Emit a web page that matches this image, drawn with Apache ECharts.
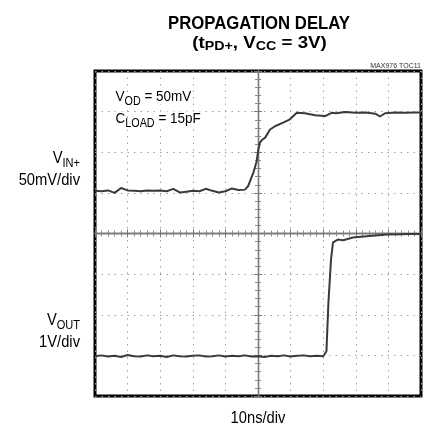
<!DOCTYPE html>
<html>
<head>
<meta charset="utf-8">
<script src="https://cdn.jsdelivr.net/npm/echarts@6/dist/echarts.min.js"></script>
<style>
html,body{margin:0;padding:0;background:#fff;}
#c{width:430px;height:428px;}
</style>
</head>
<body>
<div id="c"></div>
<script>
// Time in ns relative to screen centre (10 ns/div); levels in screen divisions (centre = 0)
const vinTime = [-50,-48,-46,-44,-42,-40,-38,-36,-34,-32,-30,-28,-26,-24,-22,-20,-18,-16,-14,-12,-10,-8,-6,-4,
  -3.0,-2.0,-1.4,-0.4,0.1,0.6,1.2,2.2,3.7,5.2,7.7,9.8,11.9,14.4,17.5,20.6,22.6,24.0,26.7,30,33,36,37.4,39,42,45,48,50];
const vinDiv = [1.05,1.04,1.06,1.00,1.12,1.06,1.05,1.04,1.06,1.05,1.06,1.04,1.10,1.01,1.03,1.05,1.04,1.10,1.05,1.01,1.04,1.11,1.07,1.08,
  1.17,1.38,1.50,1.78,2.07,2.24,2.30,2.36,2.56,2.64,2.73,2.81,2.97,2.96,2.91,2.89,2.97,2.96,2.99,2.97,2.98,2.95,2.88,2.96,2.98,2.97,2.98,2.98];

const voutTime = [-50,-48,-46,-44,-42,-40,-38,-36,-34,-32,-30,-28,-26,-24,-22,-20,-18,-16,-14,-12,-10,-8,-6,-4,-2,0,2,4,6,8,10,12,14,16,18,20,
  20.6,21.0,21.6,22.4,23.0,24.5,26.1,29.1,33.3,39.5,43.6,47,50];
const voutDiv = [-3.02,-3.00,-3.03,-3.01,-3.04,-2.99,-3.02,-3.03,-3.00,-3.02,-3.01,-3.04,-3.00,-3.02,-3.03,-3.01,-3.00,-3.03,-3.02,-3.00,-3.03,-3.01,-3.02,-3.00,-3.03,-3.02,-3.04,-3.01,-3.02,-3.00,-3.03,-3.01,-3.00,-3.02,-3.01,-3.02,
  -3.06,-2.90,-1.70,-0.64,-0.22,-0.15,-0.165,-0.10,-0.066,-0.025,-0.02,-0.01,-0.01];

const titleLine1 = 'PROPAGATION DELAY';
const xScaleLabel = '10ns/div';
const vinLabel = ['V', 'IN+', '50mV/div'];
const voutLabel = ['V', 'OUT', '1V/div'];

const FONT = '"Liberation Sans",Arial,sans-serif';

function zip(a, b) { return a.map((v, i) => [v, b[i]]); }

const chart = echarts.init(document.getElementById('c'), null, {renderer: 'canvas'});

const gridLine = {show: true, lineStyle: {color: '#a0a0a0', width: 1, type: [1.5, 5]}};
const centreLine = {color: '#777', width: 1.3};

function xAx(pos, split) {
  return {
    type: 'value', min: -50, max: 50, interval: 10, position: pos,
    axisLine: {show: true, onZero: true, onZeroAxisIndex: 0, lineStyle: centreLine},
    axisTick: {show: true, length: 4, lineStyle: {color: '#777', width: 1}},
    minorTick: {show: true, splitNumber: 5, length: 3, lineStyle: {color: '#888', width: 1}},
    axisLabel: {show: false},
    splitLine: split ? gridLine : {show: false},
    minorSplitLine: {show: false}
  };
}
function yAx(pos, split) {
  return {
    type: 'value', min: -4, max: 4, interval: 1, position: pos,
    axisLine: {show: true, onZero: true, onZeroAxisIndex: 0, lineStyle: centreLine},
    axisTick: {show: true, length: 4, lineStyle: {color: '#777', width: 1}},
    minorTick: {show: true, splitNumber: 5, length: 3, lineStyle: {color: '#888', width: 1}},
    axisLabel: {show: false},
    splitLine: split ? gridLine : {show: false},
    minorSplitLine: {show: false}
  };
}

function labelRich() {
  return {
    m: {font: '16px ' + FONT, fill: '#000', lineHeight: 22},
    s: {font: '12px ' + FONT, fill: '#000', lineHeight: 9, verticalAlign: 'bottom'}
  };
}

chart.setOption({
  animation: false,
  backgroundColor: '#fff',
  grid: {left: 95, top: 71, right: 9, bottom: 32, show: true, borderColor: '#000', borderWidth: 3, backgroundColor: 'transparent'},
  xAxis: [xAx('bottom', true), xAx('top', false)],
  yAxis: [yAx('left', true), yAx('right', false)],
  series: [
    {type: 'line', data: zip(vinTime, vinDiv), showSymbol: false, symbol: 'none', smooth: false,
     lineStyle: {color: '#3a3a3a', width: 2}, z: 5},
    {type: 'line', data: zip(voutTime, voutDiv), showSymbol: false, symbol: 'none', smooth: false,
     lineStyle: {color: '#3a3a3a', width: 2}, z: 5}
  ],
  graphic: [
    {type: 'text', x: 259, y: 24.5, scaleX: 0.93, style: {text: titleLine1, font: 'bold 18px ' + FONT, fill: '#000', align: 'center', verticalAlign: 'middle'}},
    {type: 'text', x: 259.5, y: 43, scaleX: 1.1, style: {
      text: '{m|(t}{s|PD+}{m|, V}{s|CC}{m| = 3V)}',
      align: 'center', verticalAlign: 'middle',
      rich: {
        m: {font: 'bold 17px ' + FONT, fill: '#000', lineHeight: 20},
        s: {font: 'bold 13px ' + FONT, fill: '#000', lineHeight: 8, verticalAlign: 'bottom'}
      }}},
    {type: 'text', x: 421, y: 66, style: {text: 'MAX976 TOC11', font: '7px ' + FONT, fill: '#333', align: 'right', verticalAlign: 'middle'}},
    {type: 'text', x: 115.5, y: 108, scaleX: 0.9, z: 10, style: {
      text: '{m|V}{s|OD}{m| = 50mV}\n{m|C}{s|LOAD}{m| = 15pF}',
      align: 'left', verticalAlign: 'middle',
      rich: {
        m: {font: '15px ' + FONT, fill: '#000', lineHeight: 22, backgroundColor: '#fff'},
        s: {font: '12px ' + FONT, fill: '#000', lineHeight: 9, verticalAlign: 'bottom', backgroundColor: '#fff'}
      }}},
    {type: 'text', x: 80, y: 170, scaleX: 0.92, style: {
      text: '{m|' + vinLabel[0] + '}{s|' + vinLabel[1] + '}\n{m|' + vinLabel[2] + '}',
      align: 'right', verticalAlign: 'middle', rich: labelRich()}},
    {type: 'text', x: 80, y: 331.5, scaleX: 0.92, style: {
      text: '{m|' + voutLabel[0] + '}{s|' + voutLabel[1] + '}\n{m|' + voutLabel[2] + '}',
      align: 'right', verticalAlign: 'middle', rich: labelRich()}},
    {type: 'text', x: 258, y: 418.5, scaleX: 0.92, style: {text: xScaleLabel, font: '16px ' + FONT, fill: '#000', align: 'center', verticalAlign: 'middle'}}
  ]
});
</script>
</body>
</html>
